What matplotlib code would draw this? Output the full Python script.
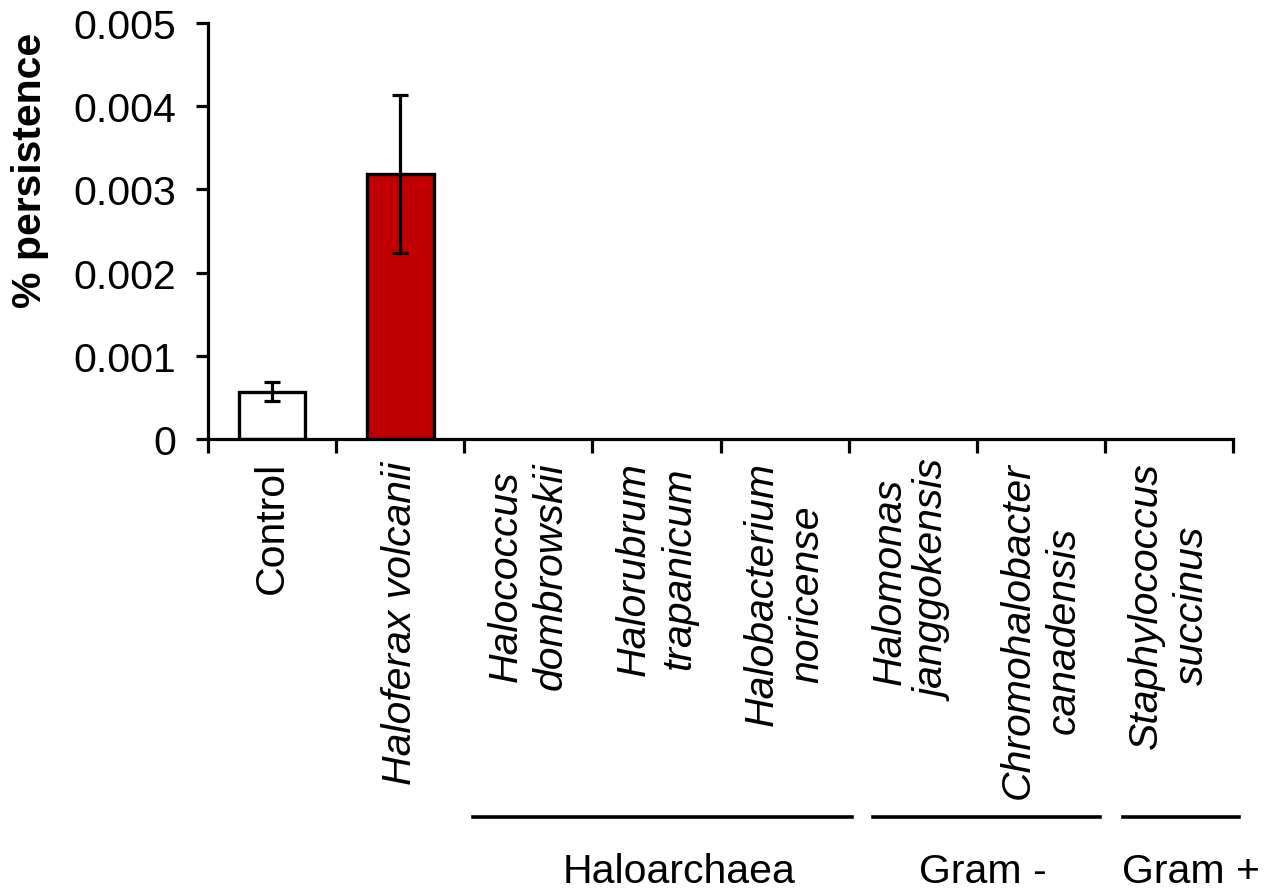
import matplotlib
matplotlib.use("Agg")
import matplotlib.pyplot as plt
from matplotlib.transforms import blended_transform_factory

categories = ["Control", "Haloferax volcanii", "Halococcus\ndombrowskii",
              "Halorubrum\ntrapanicum", "Halobacterium\nnoricense",
              "Halomonas\njanggokensis", "Chromohalobacter\ncanadensis",
              "Staphylococcus\nsuccinus"]
italic = [False, True, True, True, True, True, True, True]
values = [0.00057, 0.00319, 0, 0, 0, 0, 0, 0]
errors = [0.00011, 0.00095, 0, 0, 0, 0, 0, 0]
bar_colors = ["white", "#C00000", "white", "white", "white", "white", "white", "white"]
yticks = [0, 0.001, 0.002, 0.003, 0.004, 0.005]
ytick_labels = ["0", "0.001", "0.002", "0.003", "0.004", "0.005"]
groups = ["Haloarchaea", "Gram -", "Gram +"]
group_line_start = [1.57, 4.69, 6.64]
group_line_end = [4.53, 6.46, 7.55]
group_text_x = [3.18, 5.55, 7.17]

plt.rcParams['font.family'] = ['Liberation Sans', 'DejaVu Sans']
FS = 29.5

fig = plt.figure(figsize=(12.67, 8.95), dpi=100)
ax = fig.add_axes([208/1267, 1-440/895, (1233-208)/1267, (440-24)/895])

x = list(range(len(categories)))
shown = [i for i in x if values[i] > 0]
ax.bar([x[i] for i in shown], [values[i] for i in shown], width=0.52,
       color=[bar_colors[i] for i in shown], edgecolor="black", linewidth=2.4,
       yerr=[errors[i] for i in shown], capsize=5.5,
       error_kw=dict(elinewidth=2.3, capthick=2.3, ecolor="black"), zorder=2)

ax.set_xlim(-0.5, len(categories) - 0.5)
ax.set_ylim(0, 0.005)
ax.set_yticks(yticks)
ax.set_yticklabels(ytick_labels, fontsize=FS)
ax.tick_params(axis='y', direction='out', length=9, width=2.3, pad=14)

# category labels at centres, tick marks at boundaries
ax.set_xticks(x)
ax.set_xticklabels(categories, rotation=90, fontsize=FS, va='top', ha='center',
                   multialignment='center', linespacing=1.25)
for lab, it in zip(ax.get_xticklabels(), italic):
    lab.set_fontstyle('italic' if it else 'normal')
ax.tick_params(axis='x', which='major', length=0, pad=16)
ax.set_xticks([i - 0.5 for i in range(len(categories) + 1)], minor=True)
ax.tick_params(axis='x', which='minor', direction='out', length=10, width=2.3)

for s in ['top', 'right']:
    ax.spines[s].set_visible(False)
for s in ['left', 'bottom']:
    ax.spines[s].set_linewidth(2.3)

trans = blended_transform_factory(ax.transData, fig.transFigure)
for g, s0, s1, tx in zip(groups, group_line_start, group_line_end, group_text_x):
    ax.plot([s0, s1], [1-818/895, 1-818/895], color="black", linewidth=2.6,
            transform=trans, clip_on=False)
    ax.text(tx, 1-872/895, g, transform=trans, ha='center', va='center', fontsize=FS)

fig.text(30/1267, 1-170/895, "% persistence", rotation=90, ha='center', va='center',
         fontsize=FS, fontweight='bold')

fig.savefig("out.png", dpi=100)
